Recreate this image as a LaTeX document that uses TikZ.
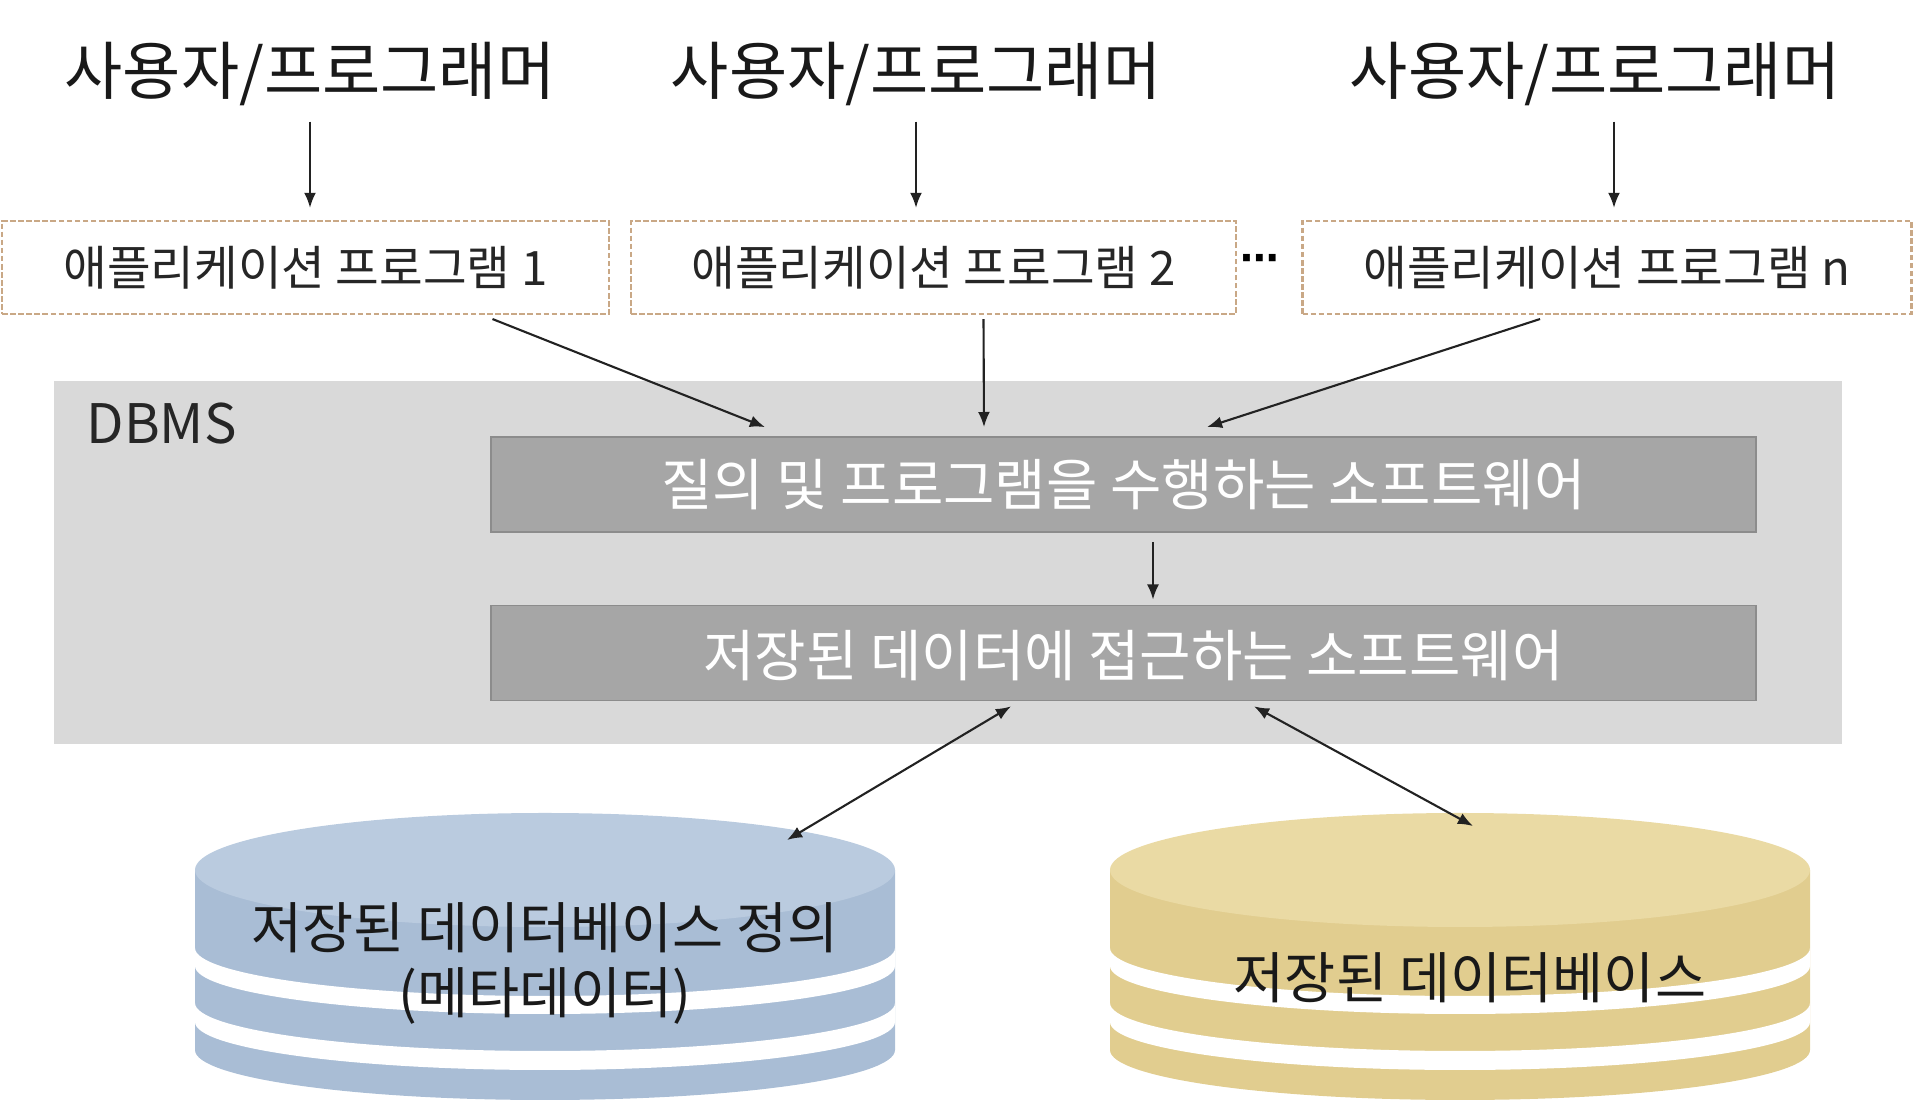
\documentclass[tikz,border=0pt]{standalone}
\usepackage{fontspec}
\setmainfont{Noto Sans CJK KR}
\newfontfamily\dotsfont{DejaVu Sans}
\usetikzlibrary{arrows.meta,calc,positioning}
\definecolor{apptan}{RGB}{201,168,134}
\definecolor{dbmsgray}{RGB}{217,217,217}
\definecolor{swgray}{RGB}{166,166,166}
\definecolor{swedge}{RGB}{140,140,140}
\definecolor{metatop}{RGB}{186,203,223}
\definecolor{metaside}{RGB}{169,189,213}
\definecolor{datatop}{RGB}{234,218,164}
\definecolor{dataside}{RGB}{225,205,143}
\definecolor{linkgray}{RGB}{34,34,34}

\begin{document}
\begin{tikzpicture}[
    user/.style={font=\fontsize{18}{21}\selectfont, text=black!90, inner sep=0pt},
    app/.style={draw=apptan, dash pattern=on 1.6pt off 0.7pt, line width=0.6pt,
      minimum width=6.07cm, minimum height=0.93cm, inner sep=0pt,
      font=\fontsize{13.5}{16}\selectfont, text=black!85},
    sw/.style={fill=swgray, draw=swedge, line width=0.5pt, minimum width=12.65cm,
      minimum height=0.95cm, text=white, font=\fontsize{15.9}{18}\selectfont},
    link/.style={-{Latex[length=4.3pt,width=3.4pt]}, linkgray, line width=0.6pt},
    twoway/.style={{Latex[length=4.3pt,width=3.4pt]}-{Latex[length=4.3pt,width=3.4pt]}, linkgray, line width=0.6pt},
    dbtext/.style={font=\fontsize{15.8}{18.5}\selectfont, text=black!90, align=center}
  ]
        \useasboundingbox (0,0) rectangle (19.28,11.06);
        % Users / programmers
        \node[user] (user1) at (3.10,10.32) {사용자/프로그래머};
        \node[user] (user2) at (9.16,10.32) {사용자/프로그래머};
        \node[user] (user3) at (15.95,10.32) {사용자/프로그래머};
        % Application programs
        \node[app] (app1) at (3.055,8.385) {애플리케이션 프로그램 1};
        \node[app, minimum width=6.05cm] (app2) at (9.335,8.385) {애플리케이션 프로그램 2};
        \node[app, minimum width=6.09cm] (app3) at (16.07,8.385) {애플리케이션 프로그램 n};
        \node[font=\fontsize{11}{13}\selectfont\dotsfont\bfseries, inner sep=0pt] (dots) at (12.60,8.43) {⋯};
        \draw[link, shorten <=0.15cm, shorten >=0.12cm] (user1.south) -- (user1.south |- app1.north);
        \draw[link, shorten <=0.15cm, shorten >=0.12cm] (user2.south) -- (user2.south |- app2.north);
        \draw[link, shorten <=0.15cm, shorten >=0.12cm] ([xshift=0.19cm]user3.south) -- ([xshift=0.19cm]user3.south |- app3.north);
        % DBMS
        \node[fill=dbmsgray, minimum width=17.88cm, minimum height=3.63cm, inner sep=0pt] (dbms) at (9.48,5.435) {};
        \node[anchor=west, font=\fontsize{15.5}{18}\selectfont, text=black!85, inner sep=0pt] (dbmslabel) at (0.86,6.82) {DBMS};
        \node[sw] (query) at (11.235,6.215) {질의 및 프로그램을 수행하는 소프트웨어};
        \node[sw, text depth=0pt] (access) at (11.235,4.53) {\hspace*{0.2cm}저장된 데이터에 접근하는 소프트웨어};
        % Programs to query software
        \draw[link] ([xshift=1.87cm,yshift=-0.04cm]app1.south) -- ([xshift=-3.585cm,yshift=0.09cm]query.north);
        \draw[link] ([xshift=0.5cm,yshift=-0.04cm]app2.south) -- ([xshift=-1.395cm,yshift=0.09cm]query.north);
        \draw[link] ([xshift=-0.67cm,yshift=-0.04cm]app3.south) -- ([xshift=0.835cm,yshift=0.09cm]query.north);
        \draw[link, shorten <=0.09cm, shorten >=0.05cm] ([xshift=0.295cm]query.south) -- ([xshift=0.295cm]access.north);
        % Stored data (disks)
        \foreach \cx/\ctop/\cside in {5.45/metatop/metaside, 14.60/datatop/dataside} {
          \fill[\cside] (\cx-3.5,2.36) -- (\cx-3.5,0.56)
            arc[start angle=180, end angle=360, x radius=3.5cm, y radius=0.5cm]
            -- (\cx+3.5,2.36) -- cycle;
          \foreach \a/\b in {1.58/1.40, 1.03/0.84}
            \fill[white] (\cx-3.5,\a)
              arc[start angle=180, end angle=360, x radius=3.5cm, y radius=0.48cm]
              -- (\cx+3.5,\b)
              arc[start angle=0, end angle=-180, x radius=3.5cm, y radius=0.48cm] -- cycle;
          \fill[\ctop] (\cx,2.36) ellipse[x radius=3.5cm, y radius=0.57cm];
        }
        \node[dbtext] (meta) at (5.45,1.43) {저장된 데이터베이스 정의\\(메타데이터)};
        \node[dbtext] (stored) at (14.70,1.28) {저장된 데이터베이스};
        \coordinate (metatip) at (7.87,2.66);
        \coordinate (datatip) at (14.73,2.80);
        % Access software to disks
        \draw[twoway] ([xshift=-1.125cm,yshift=-0.05cm]access.south) -- (metatip);
        \draw[twoway] ([xshift=1.305cm,yshift=-0.05cm]access.south) -- (datatip);
\end{tikzpicture}
\end{document}
